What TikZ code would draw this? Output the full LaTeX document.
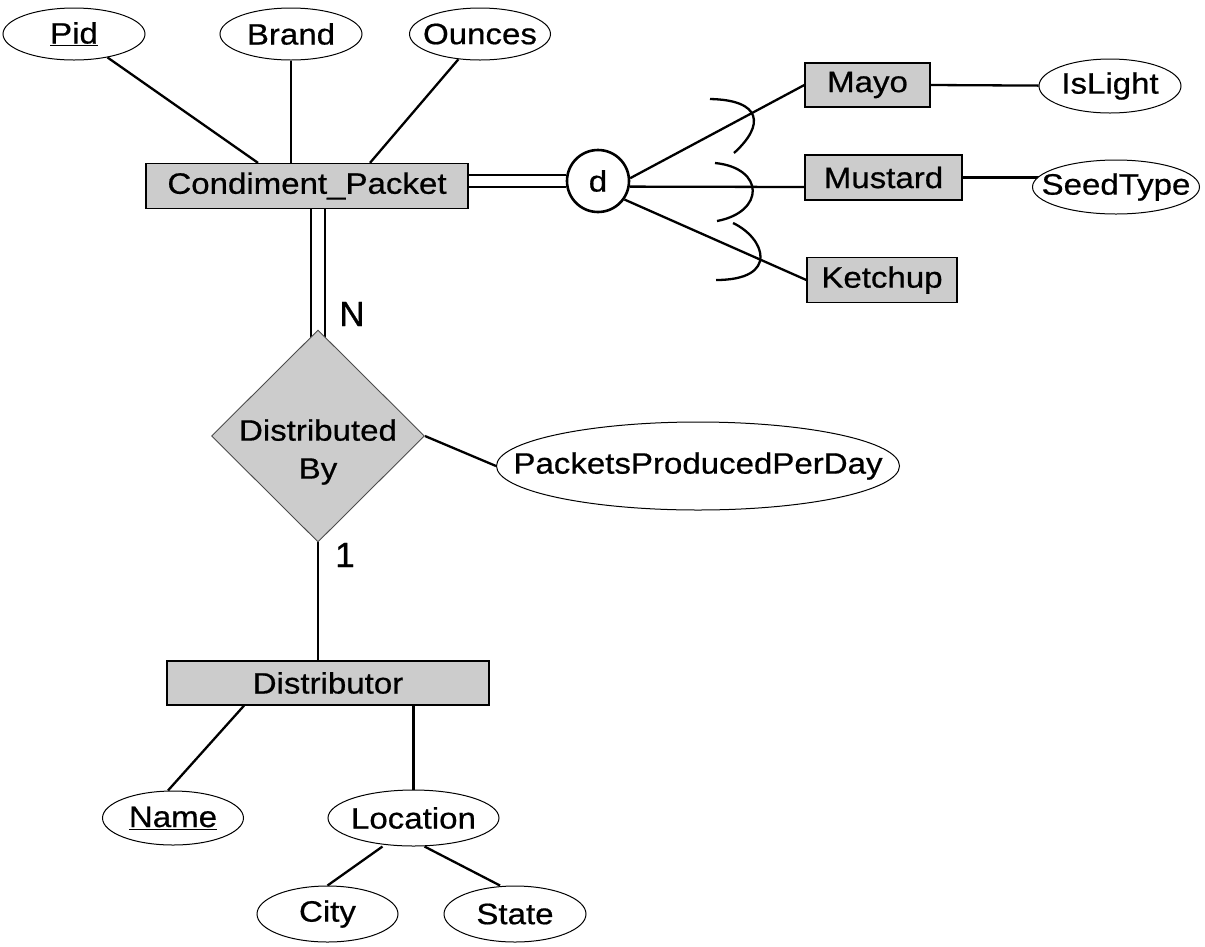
\documentclass[tikz,border=0pt]{standalone}
\usepackage{fontspec}
\setmainfont[FakeStretch=1.12,FakeBold=0.6]{Liberation Sans}
\newfontfamily\lblfont[FakeBold=0.8]{Liberation Sans}
\usetikzlibrary{shapes.geometric,calc,backgrounds}
\definecolor{entfill}{RGB}{204,204,204}
\newcommand\zw[1]{\makebox[0pt]{#1}}
\begin{document}
\begin{tikzpicture}[x=1pt,y=-1pt,
  txt/.style={font=\fontsize{29.5}{38}\selectfont},
  lbl/.style={font=\lblfont\fontsize{35}{40}\selectfont, inner sep=0pt},
  entity/.style={txt, draw=black, line width=1.3pt, fill=entfill, rectangle, inner sep=0pt},
  attr/.style={txt, draw=black, line width=1pt, fill=white, ellipse, inner sep=0pt},
  conn/.style={line width=2.3pt},
  dbl/.style={double, double distance=10pt, line width=2pt}
]
\useasboundingbox (0,0) rectangle (1205,946);

% attributes and entities
\node[attr, minimum width=142pt, minimum height=52pt] (pid) at (74,34) {\zw{\underline{Pid}}};
\node[attr, minimum width=142pt, minimum height=52pt] (brand) at (291,34) {\zw{Brand}};
\node[attr, minimum width=141pt, minimum height=52pt] (ounces) at (480,34) {\zw{Ounces}};
\node[entity, minimum width=322pt, minimum height=45pt] (cp) at (307,186) {Condiment\_Packet};
\node[circle, draw=black, fill=white, line width=2.6pt, minimum size=62pt, inner sep=0pt, txt] (d) at (598,181) {d};
\node[entity, minimum width=125pt, minimum height=44pt] (mayo) at (867.5,85) {Mayo};
\node[attr, minimum width=142pt, minimum height=54pt] (islight) at (1110,86) {\zw{IsLight}};
\node[entity, minimum width=157pt, minimum height=45pt] (mustard) at (883.5,177.5) {Mustard};
\node[attr, minimum width=167pt, minimum height=54pt] (seed) at (1116,187) {\zw{SeedType}};
\node[entity, minimum width=150pt, minimum height=45pt] (ketchup) at (882,280) {Ketchup};
\node[diamond, draw=black!70, line width=0.9pt, fill=entfill, minimum width=213pt, minimum height=212pt, inner sep=0pt] (db) at (318,436) {};
\node[txt, align=center, inner sep=0pt] (dbtext) at (318,452) {Distributed\\By};
\node[attr, minimum width=403pt, minimum height=88pt] (ppd) at (698,466) {\zw{PacketsProducedPerDay}};
\node[entity, minimum width=322pt, minimum height=44pt] (dist) at (328,683) {Distributor};
\node[attr, minimum width=141pt, minimum height=54pt] (name) at (173,818) {\zw{\underline{Name}}};
\node[attr, minimum width=171pt, minimum height=56pt] (loc) at (413.5,818) {\zw{Location}};
\node[attr, minimum width=141pt, minimum height=56pt] (city) at (327.5,914) {\zw{City}};
\node[attr, minimum width=142pt, minimum height=56pt] (state) at (515,914) {\zw{State}};
\node[lbl] (nlab) at (352,314) {N};
\node[lbl] (onelab) at (345,555) {1};

\begin{scope}[on background layer]
  \draw[conn] (pid) -- ([xshift=-49pt]cp.north);
  \draw[conn] (brand) -- (brand |- cp.north);
  \draw[conn] (ounces) -- ([xshift=63pt]cp.north);
  \draw[dbl] (cp.east |- d) -- (d);
  \draw[dbl, double distance=12pt] (db.north |- cp.south) -- (db.center);
  \draw[conn] (d.5) -- (mayo.west);
  \draw[conn] (d.-10) -- ([yshift=-9.5pt]mustard.west);
  \draw[conn] (d.-35) -- (ketchup.west);
  \draw[conn] (mayo.east) -- (islight);
  \draw[conn] (mustard.east) -- ([xshift=20pt]mustard.east -| seed.west);
  \draw[conn] (db.east) -- (ppd.west);
  \draw[conn] (db.south) -- (db.south |- dist.north);
  \draw[conn] ([xshift=-84pt]dist.south) -- ([xshift=-5pt]name.north);
  \draw[conn] (loc.north |- dist.south) -- (loc.north);
  \draw[conn] ([xshift=-31pt]loc.south) -- (city.north);
  \draw[conn] ([xshift=11pt]loc.south) -- ([xshift=-15pt]state.north);
\end{scope}

% subset (disjoint) marks
\draw[conn] (710,99) .. controls (762,100) and (765,125) .. (734,153);
\draw[conn] (715,163) .. controls (765,168) and (765,212) .. (717,221);
\draw[conn] (733,223) .. controls (765,238) and (780,280) .. (716,280);
\end{tikzpicture}
\end{document}
